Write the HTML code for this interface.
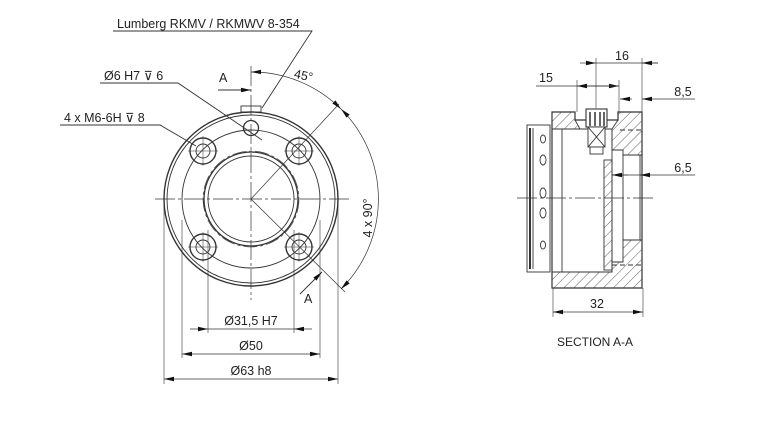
<!DOCTYPE html>
<html><head><meta charset="utf-8"><style>
html,body{margin:0;padding:0;background:#fff;}
svg{display:block;}
text{font-family:"Liberation Sans","DejaVu Sans",sans-serif;fill:#222;}
</style></head><body>
<svg width="768" height="430" viewBox="0 0 768 430" xmlns="http://www.w3.org/2000/svg">
<defs>
<pattern id="h" width="7" height="7" patternUnits="userSpaceOnUse" patternTransform="rotate(45)">
<line x1="0" y1="0" x2="0" y2="7" stroke="#333" stroke-width="0.8"/>
</pattern>
<marker id="ar" markerWidth="10" markerHeight="6" refX="10" refY="3" orient="auto" markerUnits="userSpaceOnUse">
<path d="M0,0.8 L10,3 L0,5.2 Z" fill="#111"/></marker>
<marker id="as" markerWidth="10" markerHeight="6" refX="0" refY="3" orient="auto" markerUnits="userSpaceOnUse">
<path d="M10,0.8 L0,3 L10,5.2 Z" fill="#111"/></marker>
<g id="hole" fill="none" stroke="#333">
<circle cx="0" cy="0" r="13" stroke-width="1.4"/>
<circle cx="0" cy="0" r="7" stroke-width="0.9"/>
<line x1="-15" y1="0" x2="15" y2="0" stroke-width="0.5"/><line x1="0" y1="-15" x2="0" y2="15" stroke-width="0.5"/>
</g>
</defs>
<g fill="none" stroke="#333" stroke-width="0.9">
<!-- front view -->
<circle cx="251" cy="199" r="87" stroke-width="1.4"/>
<circle cx="251" cy="199" r="84"/>
<circle cx="251" cy="199" r="69"/>
<circle cx="251" cy="199" r="48" stroke-dasharray="14 3 3 3" stroke-width="0.6"/>
<circle cx="251" cy="199" r="47" stroke-width="1.3"/>
<circle cx="251" cy="199" r="43"/>
<rect x="241" y="106" width="20" height="6"/>
<circle cx="251" cy="128" r="7.5" stroke-width="1.3"/>
<use href="#hole" x="203" y="151"/><use href="#hole" x="299" y="151"/>
<use href="#hole" x="203" y="247"/><use href="#hole" x="299" y="247"/>
<line x1="251" y1="66" x2="251" y2="300" stroke-dasharray="20 3 3 3" stroke-width="0.7"/>
<line x1="155" y1="199" x2="350" y2="199" stroke-dasharray="20 3 3 3" stroke-width="0.7"/>
<line x1="251" y1="199" x2="339" y2="104" stroke-width="0.7"/>
<line x1="251" y1="199" x2="345" y2="292" stroke-width="0.7"/>
<path d="M251,72 A127,127 0 0 1 341,109" marker-start="url(#as)" marker-end="url(#ar)" stroke-width="0.7"/>
<path d="M341,109 A127,127 0 0 1 341,289" marker-start="url(#as)" marker-end="url(#ar)" stroke-width="0.7"/>
<line x1="218" y1="90" x2="251" y2="90" marker-end="url(#ar)"/>
<line x1="300" y1="294" x2="322" y2="272" marker-end="url(#ar)"/>
<polyline points="113,31 312,31 262,108"/>
<polyline points="100,83 178,83 262,140"/>
<polyline points="60,125 160,125 196,146"/>
<line x1="164" y1="199" x2="164" y2="384" stroke-width="0.6"/>
<line x1="338" y1="199" x2="338" y2="384" stroke-width="0.6"/>
<line x1="182" y1="220" x2="182" y2="358" stroke-width="0.6"/>
<line x1="320" y1="220" x2="320" y2="358" stroke-width="0.6"/>
<line x1="208" y1="230" x2="208" y2="333" stroke-width="0.6"/>
<line x1="294" y1="230" x2="294" y2="333" stroke-width="0.6"/>
<line x1="190" y1="329" x2="208" y2="329" marker-end="url(#ar)" stroke-width="0.7"/>
<line x1="208" y1="329" x2="294" y2="329" stroke-width="0.7"/>
<line x1="312" y1="329" x2="294" y2="329" marker-end="url(#ar)" stroke-width="0.7"/>
<line x1="182" y1="354" x2="320" y2="354" marker-start="url(#as)" marker-end="url(#ar)" stroke-width="0.7"/>
<line x1="164" y1="379" x2="338" y2="379" marker-start="url(#as)" marker-end="url(#ar)" stroke-width="0.7"/>

<!-- section view -->
<line x1="517" y1="198" x2="653" y2="198" stroke-dasharray="20 3 3 3" stroke-width="0.7"/>
<rect x="527" y="125" width="23" height="147"/>
<line x1="530" y1="128" x2="530" y2="269" stroke-width="2"/>
<line x1="533" y1="128" x2="533" y2="269"/>
<path d="M552,112 L575,112 L575,120 L618,120 L618,112 L642,112 L642,288 L552,288 Z" stroke-width="1.2"/>
<path d="M552,112 L575,112 L575,120 L580,129 L552,129 Z" fill="url(#h)"/>
<path d="M618,120 L618,112 L642,112 L642,155 L623,155 L623,150 L612,150 L612,129 Z" fill="url(#h)"/>
<path d="M552,272 L552,288 L642,288 L642,240 L623,240 L623,262 L612,262 L612,272 Z" fill="url(#h)"/>
<rect x="604" y="160" width="8" height="110" fill="url(#h)"/>
<rect x="623" y="155" width="17" height="85"/>
<line x1="562" y1="129" x2="562" y2="272"/>
<line x1="552" y1="129" x2="612" y2="129"/>
<line x1="552" y1="272" x2="612" y2="272"/>
<line x1="612" y1="130" x2="612" y2="272"/>
<line x1="620" y1="130" x2="642" y2="130" stroke-dasharray="5 3"/>
<line x1="612" y1="265" x2="642" y2="265" stroke-dasharray="5 3"/>
<rect x="586" y="109" width="21" height="18" fill="#fff" stroke-width="1.1"/>
<line x1="590" y1="112" x2="590" y2="126" stroke-width="1.5"/><line x1="595" y1="112" x2="595" y2="126" stroke-width="1.5"/><line x1="600" y1="112" x2="600" y2="126" stroke-width="1.5"/><line x1="604" y1="112" x2="604" y2="126" stroke-width="1.5"/>
<rect x="588" y="127" width="17" height="20" fill="#fff"/>
<line x1="588" y1="127" x2="605" y2="147"/><line x1="605" y1="127" x2="588" y2="147"/>
<rect x="590" y="147" width="13" height="7" fill="#fff"/>
<ellipse cx="543" cy="139" rx="2.5" ry="4"/><ellipse cx="543" cy="160" rx="3" ry="5"/>
<ellipse cx="543" cy="193" rx="3" ry="5"/><ellipse cx="543" cy="213" rx="3" ry="5"/><ellipse cx="543" cy="245" rx="2.5" ry="4"/>
<line x1="596" y1="58" x2="596" y2="108" stroke-width="0.6"/>
<line x1="642" y1="58" x2="642" y2="112" stroke-width="0.6"/>
<line x1="577" y1="80" x2="577" y2="112" stroke-width="0.6"/>
<line x1="619" y1="80" x2="619" y2="112" stroke-width="0.6"/>
<line x1="580" y1="63" x2="596" y2="63" marker-end="url(#ar)" stroke-width="0.7"/>
<line x1="596" y1="63" x2="658" y2="63" stroke-width="0.7"/>
<line x1="658" y1="63" x2="642" y2="63" marker-end="url(#ar)" stroke-width="0.7"/>
<line x1="536" y1="86" x2="619" y2="86" marker-end="url(#ar)" stroke-width="0.7"/>
<line x1="619" y1="86" x2="577" y2="86" marker-end="url(#ar)" stroke-width="0.7"/>
<line x1="620" y1="99" x2="632" y2="99" marker-start="url(#as)" stroke-width="0.7"/>
<line x1="695" y1="99" x2="642" y2="99" marker-end="url(#ar)" stroke-width="0.7"/>
<line x1="612" y1="175" x2="695" y2="175" stroke-width="0.7"/>
<line x1="628" y1="175" x2="612" y2="175" marker-end="url(#ar)" stroke-width="0.7"/>
<line x1="648" y1="175" x2="640" y2="175" marker-end="url(#ar)" stroke-width="0.7"/>
<line x1="553" y1="288" x2="553" y2="317" stroke-width="0.6"/>
<line x1="643" y1="288" x2="643" y2="317" stroke-width="0.6"/>
<line x1="553" y1="312" x2="643" y2="312" marker-start="url(#as)" marker-end="url(#ar)" stroke-width="0.7"/>
</g>
<g font-size="12.5">
<text x="117" y="28">Lumberg RKMV / RKMWV 8-354</text>
<text x="104" y="80">Ø6 H7 ⊽ 6</text>
<text x="64" y="122">4 x M6-6H ⊽ 8</text>
<text x="219" y="82">A</text>
<text x="304" y="303">A</text>
<text x="294" y="80" transform="rotate(12 305 76)">45°</text>
<text x="372" y="218" transform="rotate(-90 372 218)" text-anchor="middle">4 x 90°</text>
<text x="251" y="325" text-anchor="middle">Ø31,5 H7</text>
<text x="251" y="350" text-anchor="middle">Ø50</text>
<text x="251" y="375" text-anchor="middle">Ø63 h8</text>
<text x="622" y="60" text-anchor="middle">16</text>
<text x="546" y="82" text-anchor="middle">15</text>
<text x="683" y="96" text-anchor="middle">8,5</text>
<text x="683" y="172" text-anchor="middle">6,5</text>
<text x="597" y="308" text-anchor="middle">32</text>
<text x="595" y="346" text-anchor="middle" font-size="12">SECTION A-A</text>
</g>
</svg>
</body></html>
